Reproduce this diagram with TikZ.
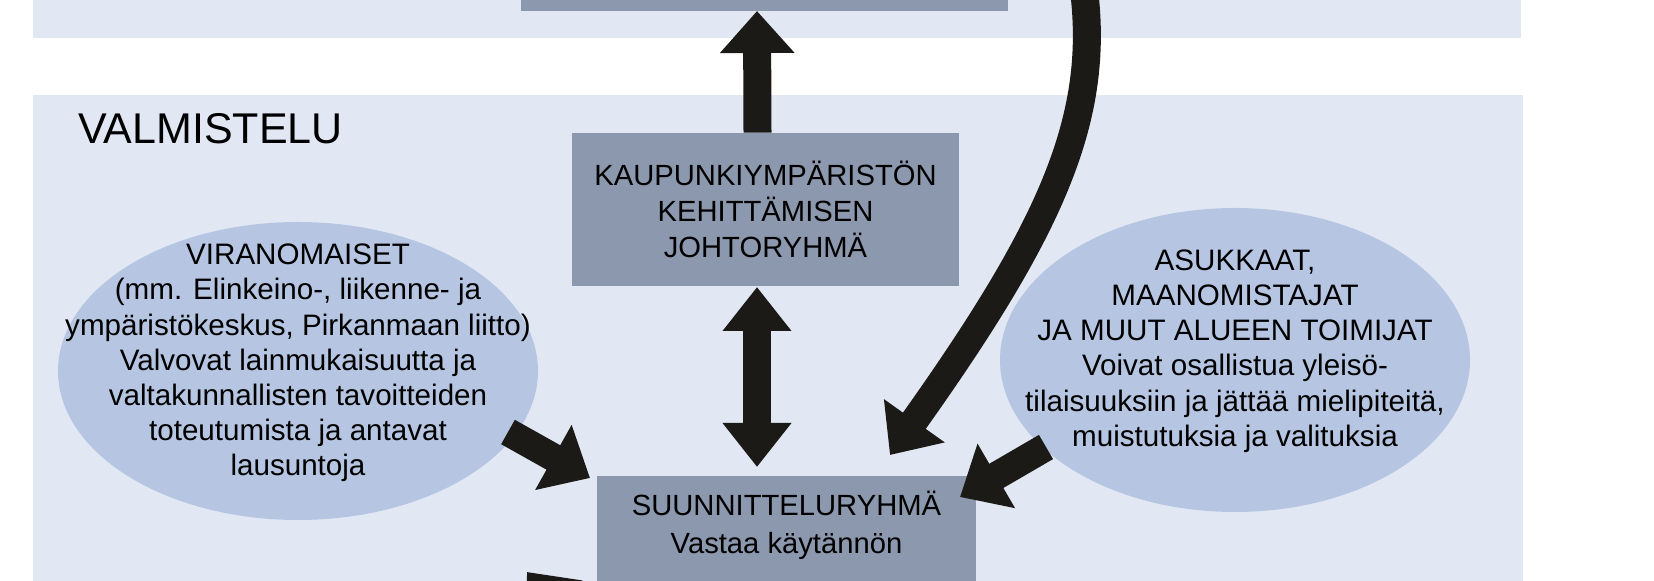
\documentclass[tikz,border=0pt]{standalone}
\usepackage{fontspec}
\setmainfont{Liberation Sans}
\usetikzlibrary{arrows.meta,shapes.geometric}
\definecolor{band}{HTML}{E1E8F3}
\definecolor{boxc}{HTML}{8C98AD}
\definecolor{ell}{HTML}{B6C6E2}
\definecolor{ink}{HTML}{1B1A17}
\tikzset{
  boxn/.style={fill=boxc,draw=none,align=center,font=\fontsize{14.6}{18}\selectfont,inner sep=0},
  elltext/.style={align=center,font=\fontsize{14.8}{17.6}\selectfont,inner sep=0},
  fat/.style={draw=ink,line width=14pt,-{Triangle[length=21pt,width=36pt]},ink},
  fatd/.style={draw=ink,line width=14pt,{Triangle[length=22pt,width=33pt]}-{Triangle[length=22pt,width=33pt]},ink},
}
\begin{document}
\begin{tikzpicture}[x=0.5pt,y=-0.5pt]
\useasboundingbox (0,0) rectangle (1654,581);
\clip (0,0) rectangle (1654,581);
\fill[band] (33,-5) rectangle (1521,38);
\fill[band] (33,95) rectangle (1523,590);
\fill[ell] (298,371) ellipse [x radius=240, y radius=149];
\fill[ell] (1235,360) ellipse [x radius=235, y radius=152];
\node[boxn,minimum width=243.5pt,minimum height=10pt] (top) at (764.5,1) {};
\node[anchor=north west,font=\fontsize{21.5}{26}\selectfont,inner sep=0] (val) at (78,113) {VALMISTELU};
\node[boxn,minimum width=193.5pt,minimum height=76.5pt] (joh) at (765.5,209.5) {KAUPUNKIYMPÄRISTÖN\\KEHITTÄMISEN\\JOHTORYHMÄ};
\node[boxn,minimum width=189.5pt,minimum height=60pt,anchor=north] (suu) at (786.5,476) {\rule{0pt}{16pt}SUUNNITTELURYHMÄ\\[1pt]Vastaa käytännön\\\phantom{x}};
\node[elltext] (vir) at (298,363) {VIRANOMAISET\\(mm. Elinkeino-, liikenne- ja\\ympäristökeskus, Pirkanmaan liitto)\\Valvovat lainmukaisuutta ja\\valtakunnallisten tavoitteiden\\toteutumista ja antavat\\lausuntoja};
\node[elltext] (asu) at (1235,351) {ASUKKAAT,\\MAANOMISTAJAT\\JA MUUT ALUEEN TOIMIJAT\\Voivat osallistua yleisö-\\tilaisuuksiin ja jättää mielipiteitä,\\muistutuksia ja valituksia};
\coordinate (c0) at (1084,-10);
\coordinate (c1) at (527,572);
\draw[fat] (joh.north) ++(-8,0) -- (757,11);
\draw[fatd] (757,287) -- (757,467);
\draw[fat] (508,432) -- (590,478);
\draw[fat] (1046,447) -- (960,497);
\draw[fat] (c0) .. controls (1100,120) and (1050,230) .. (890,455);
\draw[fat] (600,660) -- (c1);
\end{tikzpicture}
\end{document}
